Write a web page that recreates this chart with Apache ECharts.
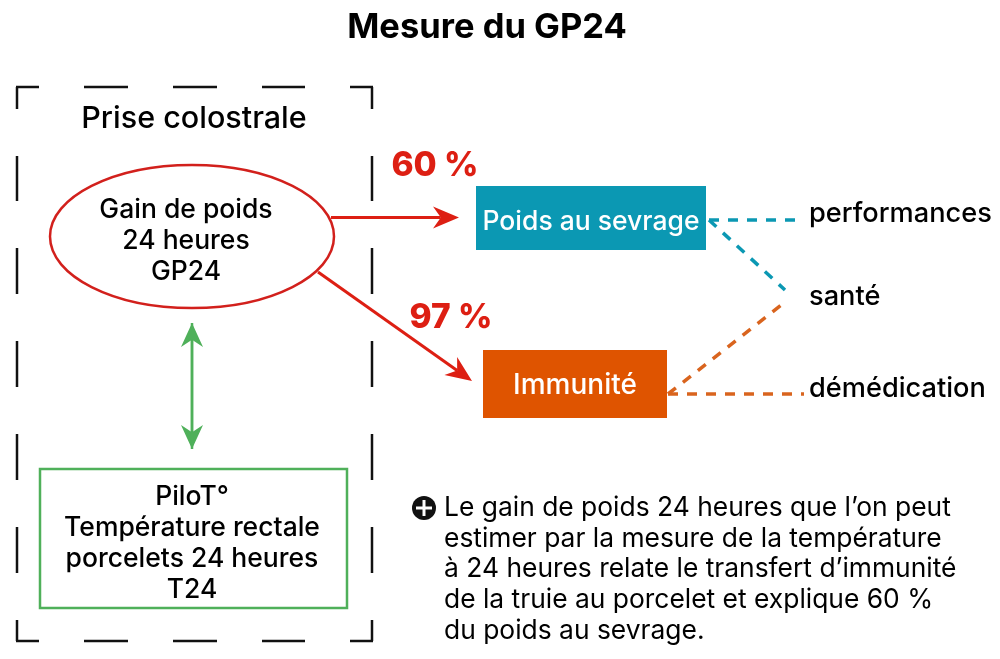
<!DOCTYPE html>
<html>
<head>
<meta charset="utf-8">
<title>Mesure du GP24</title>
<script src="https://cdn.jsdelivr.net/npm/echarts@6/dist/echarts.min.js"></script>
<style>
html, body { margin: 0; padding: 0; background: #fff; }
#main { width: 1000px; height: 659px; }
</style>
</head>
<body>
<div id="main"></div>
<script>
const frameSegments = [
	[16, 87, 39, 87], [84, 87, 128, 87], [173, 87, 217, 87], [262, 87, 305, 87], [350, 87, 373, 87],
	[16, 641, 39, 641], [84, 641, 128, 641], [173, 641, 217, 641], [262, 641, 305, 641], [350, 641, 373, 641],
	[17, 87, 17, 109], [17, 156, 17, 201], [17, 248, 17, 294], [17, 341, 17, 387], [17, 434, 17, 480], [17, 527, 17, 573], [17, 620, 17, 641],
	[372, 87, 372, 109], [372, 156, 372, 201], [372, 248, 372, 294], [372, 341, 372, 387], [372, 434, 372, 480], [372, 527, 372, 573], [372, 620, 372, 641]
];
const tealLinks = [[[709, 220], [798, 220]], [[709, 220], [785, 290]]];
const orangeLinks = [[[668, 394], [785, 302]], [[668, 394], [804, 394]]];
const redArrows = [[331, 217.5, 459, 217.5], [318, 272, 472, 381]];
const greenArrow = [[192, 323, 192, 449], [192, 449, 192, 323]];
const ellipseBox = [50, 165, 334, 308];
const greenBox = [40, 469, 347, 608];
const tealBox = [476, 186, 706, 250];
const orangeBox = [483, 350, 667, 418];
const plusIcon = [424, 508];

const headingLabels = ['Prise colostrale'];
const headingPoints = [[194, 119]];
const blackLabels = ['Gain de poids', '24 heures', 'GP24', 'PiloT°', 'Température rectale', 'porcelets 24 heures', 'T24'];
const blackPoints = [[186, 210], [186, 241], [186, 272], [192, 497], [192, 528], [192, 559], [192, 590]];
const tealLabels = ['Poids au sevrage'];
const tealPoints = [[591, 222]];
const orangeLabels = ['Immunité'];
const orangePoints = [[575, 386]];
const percentLabels = ['60 %', '97 %'];
const percentPoints = [[435, 166], [451, 318]];
const sideLabels = ['performances', 'santé', 'démédication'];
const sidePoints = [[809, 214], [809, 297], [809, 389]];
const noteLines = [
	'Le gain de poids 24 heures que l’on peut',
	'estimer par la mesure de la température',
	'à 24 heures relate le transfert d’immunité',
	'de la truie au porcelet et explique 60 %',
	'du poids au sevrage.'
];
const notePoints = [[444, 508], [444, 539], [444, 569], [444, 600], [444, 631]];
const titleText = 'Mesure du GP24';
const titlePoint = [[487, 28]];

const FONT = 'Inter, sans-serif';
const RED = '#dd1f13';
const RED_LINE = '#d2201c';
const GREEN = '#4fb05a';
const TEAL = '#0b98b3';
const ORANGE = '#df5400';

const chart = echarts.init(document.getElementById('main'), null, { renderer: 'canvas' });

function segmentSeries(name, data, color, width) {
	return {
		name: name,
		type: 'custom',
		coordinateSystem: 'cartesian2d',
		clip: false,
		silent: true,
		data: data,
		renderItem: function (params, api) {
			const a = api.coord([api.value(0), api.value(1)]);
			const b = api.coord([api.value(2), api.value(3)]);
			return {
				type: 'line',
				shape: { x1: a[0], y1: a[1], x2: b[0], y2: b[1] },
				style: { stroke: color, lineWidth: width, fill: null }
			};
		}
	};
}

// line series, one per dashed link
function linkSeries(name, points, color) {
	return {
		name: name,
		type: 'line',
		data: points,
		showSymbol: false,
		silent: true,
		lineStyle: { color: color, width: 3.5, type: [10, 9] }
	};
}

// shaft plus a barbed head at the second point
function arrowSeries(name, data, color, width, headLen, headHalf) {
	return {
		name: name,
		type: 'custom',
		coordinateSystem: 'cartesian2d',
		clip: false,
		silent: true,
		data: data,
		renderItem: function (params, api) {
			const a = api.coord([api.value(0), api.value(1)]);
			const b = api.coord([api.value(2), api.value(3)]);
			const len = Math.hypot(b[0] - a[0], b[1] - a[1]);
			const ux = (b[0] - a[0]) / len;
			const uy = (b[1] - a[1]) / len;
			const at = function (along, side) {
				return [b[0] - ux * along - uy * side, b[1] - uy * along + ux * side];
			};
			const notch = at(headLen * 0.7, 0);
			return {
				type: 'group',
				children: [{
					type: 'line',
					shape: { x1: a[0], y1: a[1], x2: notch[0], y2: notch[1] },
					style: { stroke: color, lineWidth: width }
				}, {
					type: 'polygon',
					shape: { points: [at(0, 0), at(headLen, headHalf), notch, at(headLen, -headHalf)] },
					style: { fill: color }
				}]
			};
		}
	};
}

function boxSeries(name, corners, shape, fill, stroke, width) {
	return {
		name: name,
		type: 'custom',
		coordinateSystem: 'cartesian2d',
		clip: false,
		silent: true,
		data: [corners],
		renderItem: function (params, api) {
			const a = api.coord([api.value(0), api.value(1)]);
			const b = api.coord([api.value(2), api.value(3)]);
			const w = b[0] - a[0];
			const h = b[1] - a[1];
			const geom = shape === 'ellipse'
				? { cx: a[0] + w / 2, cy: a[1] + h / 2, rx: w / 2, ry: h / 2 }
				: { x: a[0], y: a[1], width: w, height: h };
			return {
				type: shape,
				shape: geom,
				style: { fill: fill, stroke: stroke, lineWidth: width }
			};
		}
	};
}

function textSeries(name, labels, points, size, weight, color, align) {
	return {
		name: name,
		type: 'custom',
		coordinateSystem: 'cartesian2d',
		clip: false,
		silent: true,
		z: 5,
		data: points,
		renderItem: function (params, api) {
			const p = api.coord([api.value(0), api.value(1)]);
			return {
				type: 'text',
				x: p[0],
				y: p[1],
				style: {
					text: labels[params.dataIndex],
					fill: color,
					font: weight + ' ' + size + 'px ' + FONT,
					textAlign: align,
					textVerticalAlign: 'middle'
				}
			};
		}
	};
}

const plusSeries = {
	name: 'plus',
	type: 'custom',
	coordinateSystem: 'cartesian2d',
	clip: false,
	silent: true,
	data: [plusIcon],
	renderItem: function (params, api) {
		const p = api.coord([api.value(0), api.value(1)]);
		return {
			type: 'group',
			children: [{
				type: 'circle',
				shape: { cx: p[0], cy: p[1], r: 12 },
				style: { fill: '#111' }
			}, {
				type: 'rect',
				shape: { x: p[0] - 8, y: p[1] - 1.5, width: 16, height: 3 },
				style: { fill: '#fff' }
			}, {
				type: 'rect',
				shape: { x: p[0] - 1.5, y: p[1] - 8, width: 3, height: 16 },
				style: { fill: '#fff' }
			}]
		};
	}
};

const option = {
	backgroundColor: '#fff',
	animation: false,
	grid: { left: 0, right: 0, top: 0, bottom: 0 },
	xAxis: { type: 'value', min: 0, max: 1000, show: false },
	yAxis: { type: 'value', min: 0, max: 659, inverse: true, show: false },
	series: [
		segmentSeries('cadre', frameSegments, '#111', 2.5),
		linkSeries('performances', tealLinks[0], TEAL),
		linkSeries('santé haut', tealLinks[1], TEAL),
		linkSeries('santé bas', orangeLinks[0], '#d9641e'),
		linkSeries('démédication', orangeLinks[1], '#d9641e'),
		arrowSeries('flèches', redArrows, RED, 3, 26, 11),
		arrowSeries('double flèche', greenArrow, GREEN, 2.5, 24, 11),
		boxSeries('GP24', ellipseBox, 'ellipse', '#fff', RED_LINE, 2.5),
		boxSeries('PiloT', greenBox, 'rect', '#fff', GREEN, 2.5),
		boxSeries('sevrage', tealBox, 'rect', TEAL, null, 0),
		boxSeries('immunité', orangeBox, 'rect', ORANGE, null, 0),
		plusSeries,
		textSeries('titre', [titleText], titlePoint, 34.5, 'bold', '#000', 'center'),
		textSeries('intertitre', headingLabels, headingPoints, 30.5, 500, '#000', 'center'),
		textSeries('noir', blackLabels, blackPoints, 26.5, 500, '#000', 'center'),
		textSeries('boite sevrage', tealLabels, tealPoints, 26.5, 500, '#fff', 'center'),
		textSeries('boite immunité', orangeLabels, orangePoints, 28, 500, '#fff', 'center'),
		textSeries('pourcent', percentLabels, percentPoints, 33.5, 800, RED, 'center'),
		textSeries('cotes', sideLabels, sidePoints, 27.2, 500, '#000', 'left'),
		textSeries('note', noteLines, notePoints, 26.4, 400, '#000', 'left')
	]
};
chart.setOption(option);

window.onresize = function () {
	chart.resize();
};
</script>
</body>
</html>
